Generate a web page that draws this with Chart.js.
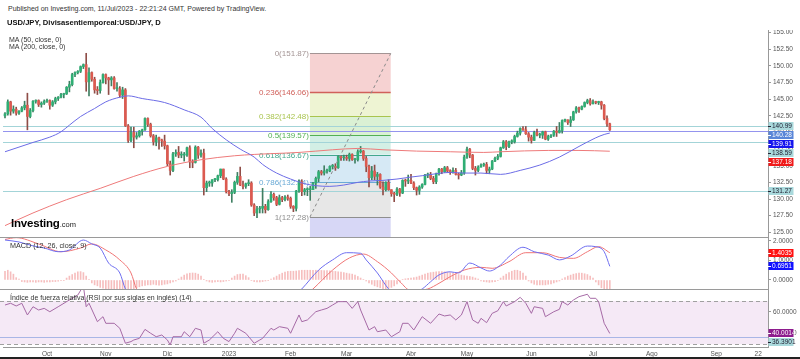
<!DOCTYPE html>
<html>
<head>
<meta charset="utf-8">
<script src="https://cdn.jsdelivr.net/npm/chart.js@4.4.0/dist/chart.umd.min.js"></script>
<style>
  body { margin: 0; background: #fff; font-family: "Liberation Sans", Arial, sans-serif; }
  #wrap { position: relative; width: 800px; height: 359px; overflow: hidden; background: #fff; }
  canvas { position: absolute; left: 0; }
  .t { position: absolute; white-space: nowrap; color: #333; z-index: 5; }
</style>
</head>
<body>
<div id="wrap">
  <div class="t" style="left:8px;top:5px;font-size:7px;line-height:8px;">Published on Investing.com, 11/Jul/2023 - 22:21:24 GMT, Powered by TradingView.</div>
  <div class="t" style="left:7px;top:19px;font-size:7.6px;line-height:8px;font-weight:bold;color:#111;">USD/JPY, Divisasentiemporeal:USD/JPY, D</div>
  <div class="t" style="left:9px;top:36px;font-size:7px;line-height:7px;">MA (50, close, 0)</div>
  <div class="t" style="left:9px;top:42.5px;font-size:7px;line-height:7px;">MA (200, close, 0)</div>
  <div class="t" style="left:11px;top:217px;font-size:11.5px;line-height:13px;font-weight:bold;color:#000;letter-spacing:-0.2px;">Investing<span style="font-size:7.5px;font-weight:normal;color:#222;letter-spacing:0;">.com</span></div>
  <div class="t" style="left:10px;top:242px;font-size:7.2px;line-height:8px;">MACD (12, 26, close, 9)</div>
  <div class="t" style="left:10px;top:294px;font-size:7px;line-height:8px;">Índice de fuerza relativa (RSI por sus siglas en inglés) (14)</div>
  <canvas id="cMain" width="800" height="207" style="top:30px"></canvas>
  <canvas id="cMacd" width="800" height="53" style="top:237px"></canvas>
  <canvas id="cRsi" width="800" height="70" style="top:289px"></canvas>
  <div style="position:absolute;left:0;top:357px;width:800px;height:2px;background:#222;"></div>
</div>
<script>
// daily bars, 12 Sep 2022 .. 11 Jul 2023 (bar index 0..216)
const firstOpen = 142.5;
const closes = [
  142.8,144.6,143.2,143.5,142.9,143.2,143.7,144.1,142.4,143.3,144.7,144.8,144.2,144.4,144.7,
  144.8,144.1,144.6,145.1,145.3,145.7,145.8,146.8,147.2,148.7,149.0,149.2,149.9,150.2,147.6,149.0,148.0,146.4,146.3,147.5,148.7,
  148.2,147.9,148.2,146.6,146.6,145.6,146.4,141.0,138.8,140.0,139.3,139.5,140.2,140.4,142.1,141.2,139.5,138.6,139.2,138.9,138.7,138.0,
  135.3,134.3,136.8,137.0,136.6,136.6,136.6,137.7,135.6,135.5,137.8,136.6,136.9,131.7,132.4,132.4,132.9,132.9,133.5,134.5,133.0,131.1,
  130.8,131.0,132.5,133.4,132.1,131.9,132.3,132.4,129.1,127.9,128.5,128.6,128.9,128.4,129.6,130.7,130.2,129.2,130.2,129.9,130.3,130.1,
  128.9,128.6,131.2,132.6,131.1,131.4,131.4,131.4,132.4,133.1,134.1,133.9,134.2,134.2,134.9,134.9,134.7,136.4,136.2,136.2,
  136.1,136.7,135.9,135.9,137.1,137.2,136.1,134.9,133.2,134.2,133.4,133.7,131.8,131.4,132.5,131.4,130.8,130.7,131.5,130.9,132.8,132.7,132.8,
  132.4,131.7,131.3,131.8,132.2,133.6,133.7,133.1,132.6,133.8,134.5,134.1,134.7,134.2,134.1,134.3,133.7,133.6,133.9,136.3,
  137.5,136.6,134.6,134.3,134.8,135.1,135.2,134.3,134.5,135.7,136.1,136.4,137.7,138.6,137.9,138.6,138.6,139.4,139.9,140.6,140.4,139.8,139.3,
  138.8,140.0,139.6,139.6,140.1,139.0,139.4,139.6,140.2,140.0,140.3,141.8,141.9,141.5,141.9,143.1,143.7,143.5,143.9,144.5,144.8,144.3,
  144.6,144.5,144.6,144.1,142.1,141.3,140.4
];
const highs = [
  143.0,144.9,144.7,144.0,143.8,143.3,143.9,144.7,145.9,143.6,144.8,144.9,144.9,144.6,144.9,
  145.0,144.9,144.8,145.3,145.4,145.9,145.9,146.9,147.7,148.9,149.1,149.3,150.0,150.3,151.9,149.7,149.1,148.3,146.9,147.9,148.8,
  148.8,148.3,148.4,148.4,147.5,146.9,146.8,146.6,141.2,140.8,140.8,140.0,140.3,140.5,142.2,142.2,141.4,139.7,139.6,139.3,139.0,139.6,
  138.1,135.7,137.0,137.4,137.9,137.1,137.0,137.8,138.0,135.9,138.0,137.9,137.4,137.5,132.7,132.7,132.9,133.1,133.6,134.5,134.5,133.2,
  131.3,131.4,132.7,134.0,134.8,132.7,132.4,132.9,132.6,129.3,128.9,128.9,131.6,129.2,129.9,131.1,130.9,130.4,130.6,130.4,130.5,130.6,
  130.3,129.0,131.3,132.9,132.9,131.6,131.7,131.9,132.5,133.3,134.3,134.3,135.0,134.5,135.0,135.2,135.3,136.5,136.5,136.6,
  136.6,136.9,136.8,136.1,137.4,137.9,137.3,136.4,135.1,134.9,135.1,134.0,133.8,132.6,132.6,132.9,131.4,131.0,131.7,131.6,132.9,133.0,133.6,
  133.7,132.6,131.8,132.0,132.3,133.7,133.9,134.0,133.4,133.9,134.6,134.6,134.9,134.9,134.4,134.7,134.6,133.9,134.3,136.6,
  137.8,137.6,136.7,134.9,135.0,135.3,135.4,135.5,134.8,135.8,136.3,136.7,137.8,138.8,138.8,138.7,138.9,139.6,140.2,140.7,140.9,140.9,140.0,
  139.6,140.2,140.5,139.9,140.2,140.2,139.6,139.7,140.3,140.9,141.5,141.9,142.0,141.9,142.4,143.2,143.9,143.8,144.0,144.6,145.0,145.1,
  144.9,144.7,144.7,144.7,144.2,142.5,141.4
];
const lows = [
  142.2,142.6,142.6,142.9,142.6,142.7,143.1,143.4,140.4,142.2,143.1,144.4,143.9,143.8,144.2,
  144.5,143.5,143.9,144.3,144.8,145.2,145.2,145.7,146.1,147.0,148.4,148.8,149.0,149.6,146.2,145.5,147.7,145.9,145.7,145.9,147.4,
  147.3,145.7,147.0,146.5,146.2,145.3,145.1,140.9,138.5,138.6,137.7,139.0,139.3,139.6,140.3,140.9,139.3,138.1,138.0,137.5,137.9,137.5,
  135.0,133.6,134.1,136.4,136.2,136.2,135.7,136.4,134.7,134.7,135.4,136.1,136.3,130.6,131.1,131.9,131.9,132.6,132.7,133.2,132.9,130.9,
  130.5,129.5,130.8,132.2,132.0,131.5,131.6,132.0,128.9,127.5,127.2,127.9,127.9,127.9,128.3,129.5,129.8,129.0,129.1,129.6,129.7,129.8,
  128.6,128.1,128.2,131.0,130.5,130.6,130.5,129.8,131.4,131.6,132.6,133.6,133.6,133.9,134.1,134.5,134.3,134.6,135.8,135.8,
  135.8,135.7,135.8,135.4,135.7,136.9,135.8,134.1,131.8,132.9,132.9,132.1,131.6,130.6,131.2,131.3,130.4,129.6,130.5,130.4,130.8,131.9,132.3,
  132.3,131.4,130.6,130.7,131.6,132.1,133.2,132.9,132.3,132.3,133.6,133.8,134.0,134.0,133.7,133.9,133.6,133.0,133.5,133.7,
  136.1,136.2,134.4,133.6,134.1,134.8,134.9,133.8,133.8,134.4,135.6,135.9,136.3,137.6,137.4,137.7,138.3,138.4,139.3,139.6,140.3,139.7,138.7,
  138.4,138.8,139.5,139.2,139.1,138.9,138.8,139.2,139.4,139.4,139.9,139.9,141.6,141.2,140.9,141.8,142.9,143.0,143.4,143.8,144.3,144.1,
  144.3,144.3,144.2,143.5,141.9,140.9,140.3
];

// moving averages, read at sample bars
const ma50Idx = [0,5,10,16,20,23,27,32,36,41,44,49,57,64,70,74,79,84,89,92,97,102,107,111,116,121,126,130,135,140,145,149,154,159,164,170,177,184,191,198,205,211,214,216];
const ma50Val = [137.1,137.8,138.5,139.3,140.1,141.1,142.4,143.6,144.6,145.3,145.5,145.1,144.5,143.4,142.3,140.6,138.9,137.5,136.3,135.2,133.9,133.0,132.3,132.0,131.9,132.1,132.5,132.7,132.8,133.0,133.3,133.5,133.8,134.0,133.9,133.9,133.7,134.3,135.1,136.3,137.9,139.2,139.7,139.91];
const ma200Idx = [0,10,22,34,46,58,70,82,89,94,105,117,126,135,147,159,171,177,194,205,216];
const ma200Val = [126.0,127.9,129.9,131.6,133.4,134.9,135.9,136.5,136.7,136.8,137.0,137.4,137.6,137.4,137.2,137.1,137.0,137.1,137.3,137.3,137.18];

// fibonacci retracement drawn on the chart
const fibRatios = [0, 0.236, 0.382, 0.5, 0.618, 0.786, 1, 1.618];
const fibPrices = [151.87, 146.06, 142.48, 139.57, 136.67, 132.54, 127.28, 112.08];
const fibFrom = 108.9, fibTo = 137.75;

// horizontal lines and right-axis price markers
const hLines = [140.99, 140.28, 138.59, 131.27];
const mainMarks = [140.99, 140.28, 139.91, 138.59, 137.18, 131.27];

// MACD (12, 26, 9)
const macdIdx = [0,5,10,14,19,23,28,31,34,37,41,43,46,55,65,75,85,95,102,106,112,117,122,127,129,133,137,141,147,149,152,155,159,162,166,170,173,177,180,185,189,194,198,202,208,211,214,216];
const macdVal = [2.05,1.95,1.75,1.64,1.45,1.54,2.05,1.85,1.64,0.87,0.36,-0.46,-1.0,-1.6,-1.5,-2.2,-2.0,-1.8,-1.0,-0.46,0.51,1.03,1.4,1.37,1.03,0.36,-0.46,-0.9,-0.6,-0.46,-0.09,0.26,0.42,0.36,0.87,0.62,0.46,0.77,1.2,1.68,1.45,1.28,1.03,1.23,1.74,1.71,1.45,0.70];
const sigIdx = [0,4,12,20,27,31,36,41,45,47,52,60,70,80,90,100,108,110,117,123,128,133,138,141,145,151,155,159,164,170,174,180,186,192,198,203,208,212,216];
const sigVal = [2.08,2.17,1.85,1.45,1.64,1.85,1.54,1.03,0.36,-0.46,-1.0,-1.4,-1.6,-1.9,-1.9,-1.5,-0.7,-0.46,0.51,1.13,1.33,0.94,0.36,-0.08,-0.55,-0.46,-0.17,0.17,0.51,0.65,0.6,0.94,1.4,1.4,1.16,1.11,1.45,1.71,1.40];
const histVal = [
  0.45,0.5,0.42,0.3, 0.12,0.05,
  -0.08,-0.1,-0.12,-0.1,-0.1,-0.12,-0.1,-0.1,-0.12,-0.1,-0.1,-0.08,-0.08,-0.06,-0.04,-0.02,
  0.1,0.2,0.28,0.35,0.42,0.43,0.38,0.2, 0.02,
  -0.15,-0.25,-0.3,-0.38,-0.42,-0.46,-0.5,-0.5,-0.5,-0.5,-0.5,-0.5,-0.5,-0.5,-0.5,-0.45,-0.4,-0.35,
  -0.3,-0.28,-0.25,-0.25,-0.22,-0.25,-0.27,-0.25,-0.22,-0.2,-0.15,-0.1,-0.05, 0.05,
  0.15,0.25,0.32,0.35,0.36,0.35,0.3,0.2, 0.02,
  -0.05,-0.1,-0.12,-0.1,-0.08,-0.1,-0.08,-0.05,-0.02,
  0.1,0.2,0.28,0.3,0.3,0.22,0.12,
  -0.03,-0.08,-0.1,-0.1,-0.08,-0.05,-0.02,0.05,
  0.12,0.2,0.28,0.35,0.4,0.44,0.45,0.45,0.46,0.48,
  0.5,0.5,0.5,0.5,0.5,0.5,0.5,0.49,0.48,0.48,0.47,0.45,0.44,0.42,0.4,0.38,0.35,0.32,0.3,0.25,0.18,
  0.1,0.03,-0.05,
  -0.15,-0.22,-0.3,-0.35,-0.4,-0.45,-0.45,-0.42,-0.38,-0.3,-0.2,-0.1,
  0.03,0.06,0.08,0.1,0.12,0.15,0.2,
  0.25,0.3,0.35,0.38,0.4,0.42,0.43,0.43,0.42,0.4,0.38,0.35,0.3,0.28,0.25,0.22,0.2,0.18,0.15,0.1,0.05,
  -0.05,-0.08,-0.1,-0.12,-0.1,-0.08,-0.03,
  0.1,0.2,0.3,0.38,0.45,0.5,0.5,0.45,0.35,0.2,
  -0.05,-0.15,-0.22,-0.25,-0.25,-0.25,-0.25,-0.22,-0.2,-0.15,-0.1,-0.05,
  0.05,0.12,0.2,0.25,0.3,0.33,0.35,0.35,0.32,0.28,0.2,0.1,
  -0.1,-0.25,-0.4,-0.55,-0.7,-0.75
];
const macdMarks = [1.4035, 0.6951];

// RSI (14)
const rsiIdx = [0,2,4,6,8,10,12,14,16,19,22,26,28,29,30,33,35,36,39,41,43,45,46,48,50,52,54,56,58,59,60,63,64,66,68,70,71,73,76,78,80,82,83,86,89,91,92,95,96,98,101,102,105,106,108,111,113,115,117,119,122,124,126,127,130,132,133,136,138,141,142,144,146,149,152,155,157,159,161,163,165,167,169,170,172,174,176,178,179,182,184,186,188,189,192,193,196,198,199,201,203,205,208,209,211,212,214,216];
const rsiVal = [66.3,67.9,65.4,67.9,57.1,64.7,61.7,63.2,60.1,64.7,69.4,75.5,84,64.7,67.9,50.9,55.5,49.4,49.4,44.8,31,32.5,34,35.5,43.8,40.2,37,38.6,34,29.4,37,37,41.6,37,44.8,43.2,31,34,41.6,35.5,32.5,40.2,44.8,40.2,31,34,35.5,44.8,43.2,46.3,44.8,40.2,57.1,50.9,52.5,60.1,61.7,63.2,66.3,69.4,69.4,63.2,69.4,61.7,43.2,46.3,41.6,43.2,37,41.6,49.4,49.4,43.2,55.5,49.4,58,56.2,57.1,52.5,57.1,69.4,52.5,49.4,54,50,58.6,61,69.4,65.4,69.4,73.4,67.9,58.6,64.7,63.2,55.5,60.1,62.3,69.4,66.3,70.9,74,76.2,72.5,72.5,69.4,49.4,40.0];
const rsiBands = [70, 30];
const rsiRef = 36.3901;
const rsiMarks = [40.0014, 36.3901];

// date axis
const monthIdx = [15,36,58,80,102,122,145,165,188,210,231,254,269];
const monthLbl = ['Oct','Nov','Dic','2023','Feb','Mar','Abr','May','Jun','Jul','Ago','Sep','22'];

// ---------------------------------------------------------------
Chart.defaults.font.family = '"Liberation Sans", Arial, sans-serif';
Chart.defaults.color = '#555';

const X_MIN = -0.714, X_MAX = 272.5;
const AXIS_W = 32;
const pts = (idx, val) => idx.map((v, k) => ({ x: v, y: val[k] }));

const opens = closes.map((c, i) => i === 0 ? firstOpen : closes[i - 1]);
const bodies = closes.map((c, i) => ({ x: i, y: [opens[i], c] }));
const wicks = closes.map((c, i) => ({ x: i, y: [Math.min(lows[i], opens[i], c), Math.max(highs[i], opens[i], c)] }));
const bodyCol = closes.map((c, i) => c >= opens[i] ? '#2fae74' : '#dc5a50');
const wickCol = closes.map((c, i) => c >= opens[i] ? '#3f7f62' : '#8f4d47');

function xScale(display) {
  return { type: 'linear', min: X_MIN, max: X_MAX, offset: false, display: display };
}

function rightAxis(min, max, decimals, extra) {
  return Object.assign({
    position: 'right', min: min, max: max,
    grid: { drawOnChartArea: false, tickLength: 3, color: '#999' },
    border: { color: '#999' },
    ticks: { includeBounds: false, padding: 2, font: { size: 6.5 }, color: '#555',
      callback: v => Number(v).toFixed(decimals) },
    afterFit(scale) { scale.width = AXIS_W; scale.paddingTop = 0; scale.paddingBottom = 0; }
  }, extra || {});
}

function drawMarks(chart, values, bgs, fgs, decimals) {
  const { ctx, scales: { y } } = chart;
  ctx.save();
  ctx.font = '6.5px "Liberation Sans", Arial, sans-serif';
  ctx.textBaseline = 'middle';
  let prev = -Infinity;
  values.forEach((v, k) => {
    let py = y.getPixelForValue(v);
    if (py < prev + 9) py = prev + 9;
    prev = py;
    ctx.fillStyle = bgs[k];
    ctx.fillRect(y.left + 0.5, Math.round(py) - 4, 25, 8);
    ctx.strokeStyle = fgs[k];
    ctx.lineWidth = 1;
    ctx.beginPath(); ctx.moveTo(y.left, Math.round(py) + 0.5); ctx.lineTo(y.left + 3, Math.round(py) + 0.5); ctx.stroke();
    ctx.fillStyle = fgs[k];
    ctx.fillText(v.toFixed(decimals), y.left + 4, Math.round(py) + 0.5);
  });
  ctx.restore();
}

function topRule(chart) {
  const { ctx, chartArea: a } = chart;
  ctx.save();
  ctx.strokeStyle = '#9a9a9a';
  ctx.lineWidth = 1;
  ctx.beginPath(); ctx.moveTo(0, a.top + 0.5); ctx.lineTo(a.right, a.top + 0.5); ctx.stroke();
  ctx.restore();
}

// ---------------- main price panel ----------------
const fibFill = ['#f6d2d2', '#eef4d3', '#daf1d4', '#d3efe5', '#d6e9f5', '#e7e7e7', '#d7d7f6'];
const fibLine = ['#a39494', '#d0605a', '#a9c44e', '#52b055', '#42a88e', '#6aaad6', '#8e8e8e', '#8e8ed8'];
const fibWidth = [1, 1.6, 1, 1, 1, 1, 1, 1];
const hLineCol = ['#a3d4d8', '#9494ee', '#a3d4d8', '#a3d4d8'];
const mainMarkBg = ['#a9d9dc', '#5a86d8', '#1515ee', '#a9d9dc', '#f01a1a', '#a9d9dc'];
const mainMarkFg = ['#223', '#fff', '#fff', '#223', '#fff', '#223'];

const mainDecor = {
  id: 'mainDecor',
  beforeDatasetsDraw(chart) {
    const { ctx, chartArea: a, scales: { x, y } } = chart;
    ctx.save();
    ctx.beginPath(); ctx.rect(a.left, a.top, a.right - a.left, a.bottom - a.top); ctx.clip();
    const x0 = x.getPixelForValue(fibFrom), x1 = x.getPixelForValue(fibTo);
    for (let k = 0; k < fibPrices.length - 1; k++) {
      const ya = y.getPixelForValue(fibPrices[k]), yb = y.getPixelForValue(fibPrices[k + 1]);
      ctx.fillStyle = fibFill[k];
      ctx.fillRect(x0, ya, x1 - x0, yb - ya);
    }
    ctx.font = '8px "Liberation Sans", Arial, sans-serif';
    ctx.textAlign = 'right';
    ctx.textBaseline = 'middle';
    fibPrices.forEach((p, k) => {
      const py = Math.round(y.getPixelForValue(p)) + 0.5;
      ctx.strokeStyle = fibLine[k];
      ctx.lineWidth = fibWidth[k];
      ctx.beginPath(); ctx.moveTo(x0, py); ctx.lineTo(x1, py); ctx.stroke();
      ctx.fillStyle = fibLine[k];
      ctx.fillText(fibRatios[k] + '(' + p.toFixed(2) + ')', x0 - 1, py);
    });
    hLines.forEach((p, k) => {
      const py = Math.round(y.getPixelForValue(p)) + 0.5;
      ctx.strokeStyle = hLineCol[k];
      ctx.lineWidth = 1;
      ctx.beginPath(); ctx.moveTo(a.left - 3, py); ctx.lineTo(a.right, py); ctx.stroke();
    });
    ctx.restore();
  },
  afterDatasetsDraw(chart) {
    const { ctx, scales: { x, y } } = chart;
    ctx.save();
    ctx.strokeStyle = '#8a8a8a';
    ctx.lineWidth = 1;
    ctx.setLineDash([3, 3]);
    ctx.beginPath();
    ctx.moveTo(x.getPixelForValue(fibFrom), y.getPixelForValue(fibPrices[6]));
    ctx.lineTo(x.getPixelForValue(fibTo), y.getPixelForValue(fibPrices[0]));
    ctx.stroke();
    ctx.restore();
  },
  afterDraw(chart) {
    drawMarks(chart, mainMarks, mainMarkBg, mainMarkFg, 2);
  }
};

new Chart(document.getElementById('cMain'), {
  type: 'bar',
  data: {
    datasets: [
      { type: 'line', data: pts(ma50Idx, ma50Val), borderColor: '#6c6ce6', borderWidth: 1, pointRadius: 0, cubicInterpolationMode: 'monotone', order: 0 },
      { type: 'line', data: pts(ma200Idx, ma200Val), borderColor: '#ee7a7a', borderWidth: 1, pointRadius: 0, cubicInterpolationMode: 'monotone', order: 0 },
      { type: 'bar', data: bodies, backgroundColor: bodyCol, barThickness: 2, minBarLength: 1, grouped: false, order: 1 },
      { type: 'bar', data: wicks, backgroundColor: wickCol, barThickness: 1, grouped: false, order: 2 }
    ]
  },
  options: {
    responsive: false, animation: false, devicePixelRatio: 1,
    layout: { padding: { left: 3, right: 0, top: 0, bottom: 0 } },
    plugins: { legend: { display: false }, tooltip: { enabled: false } },
    scales: {
      x: xScale(false),
      y: rightAxis(124.29, 155.4, 2, { ticks: { includeBounds: false, stepSize: 2.5, padding: 2, font: { size: 6.5 }, color: '#555', callback: v => Number(v).toFixed(2) } })
    }
  },
  plugins: [mainDecor]
});

// ---------------- MACD panel ----------------
const macdDecor = {
  id: 'macdDecor',
  afterDraw(chart) {
    topRule(chart);
    drawMarks(chart, macdMarks, ['#ff1010', '#1010ff'], ['#fff', '#fff'], 4);
  }
};

new Chart(document.getElementById('cMacd'), {
  type: 'bar',
  data: {
    datasets: [
      { type: 'line', data: pts(macdIdx, macdVal), borderColor: '#6e6ef0', borderWidth: 1, pointRadius: 0, cubicInterpolationMode: 'monotone', clip: 0, order: 0 },
      { type: 'line', data: pts(sigIdx, sigVal), borderColor: '#f07575', borderWidth: 1, pointRadius: 0, cubicInterpolationMode: 'monotone', clip: 0, order: 0 },
      { type: 'bar', data: histVal.map((v, i) => ({ x: i, y: v })), backgroundColor: 'rgba(236,110,110,0.45)', barThickness: 1, grouped: false, clip: 0, order: 1 }
    ]
  },
  options: {
    responsive: false, animation: false, devicePixelRatio: 1,
    layout: { padding: { left: 3, right: 0, top: 0, bottom: 0 } },
    plugins: { legend: { display: false }, tooltip: { enabled: false } },
    scales: {
      x: xScale(false),
      y: rightAxis(-0.513, 2.205, 4, { ticks: { includeBounds: false, stepSize: 1, padding: 2, font: { size: 6.5 }, color: '#555', callback: v => Number(v).toFixed(4) } })
    }
  },
  plugins: [macdDecor]
});

// ---------------- RSI panel ----------------
const rsiDecor = {
  id: 'rsiDecor',
  beforeDatasetsDraw(chart) {
    const { ctx, chartArea: a, scales: { y } } = chart;
    const yHi = y.getPixelForValue(rsiBands[0]), yLo = y.getPixelForValue(rsiBands[1]);
    ctx.save();
    ctx.fillStyle = '#f5e9f6';
    ctx.fillRect(a.left - 3, yHi, a.right - a.left + 3, yLo - yHi);
    ctx.strokeStyle = '#a0a0a0';
    ctx.lineWidth = 1;
    ctx.setLineDash([4, 3]);
    [yHi, yLo].forEach(py => {
      ctx.beginPath(); ctx.moveTo(a.left - 3, Math.round(py) + 0.5); ctx.lineTo(a.right, Math.round(py) + 0.5); ctx.stroke();
    });
    ctx.setLineDash([]);
    ctx.strokeStyle = '#a9b6e6';
    const pr = Math.round(y.getPixelForValue(rsiRef)) + 0.5;
    ctx.beginPath(); ctx.moveTo(a.left - 3, pr); ctx.lineTo(a.right, pr); ctx.stroke();
    ctx.restore();
  },
  afterDraw(chart) {
    topRule(chart);
    drawMarks(chart, rsiMarks, ['#8e1c8e', '#a9d9dc'], ['#fff', '#223'], 4);
  }
};

new Chart(document.getElementById('cRsi'), {
  type: 'line',
  data: {
    datasets: [
      { data: pts(rsiIdx, rsiVal), borderColor: '#a66aa6', borderWidth: 1, pointRadius: 0, tension: 0, clip: 0 }
    ]
  },
  options: {
    responsive: false, animation: false, devicePixelRatio: 1,
    layout: { padding: { left: 3, right: 0, top: 0, bottom: 0 } },
    plugins: { legend: { display: false }, tooltip: { enabled: false } },
    scales: {
      x: {
        type: 'linear', min: X_MIN, max: X_MAX, offset: false, position: 'bottom',
        grid: { display: false, drawTicks: false },
        border: { color: '#999' },
        ticks: { autoSkip: false, maxRotation: 0, padding: 3, font: { size: 6.5 }, color: '#555',
          callback: (v, i) => monthLbl[i] },
        afterBuildTicks(scale) { scale.ticks = monthIdx.map(v => ({ value: v })); },
        afterFit(scale) { scale.height = 12; scale.paddingLeft = 0; scale.paddingRight = 0; }
      },
      y: rightAxis(27.51, 81.09, 4, {
        afterBuildTicks(scale) { scale.ticks = [{ value: 40 }, { value: 60 }]; }
      })
    }
  },
  plugins: [rsiDecor]
});
</script>
</body>
</html>
